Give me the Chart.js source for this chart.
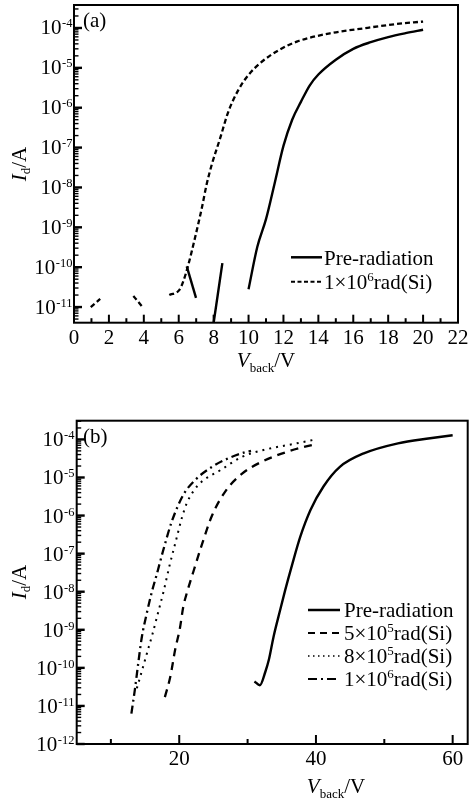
<!DOCTYPE html>
<html><head><meta charset="utf-8">
<script src="https://cdn.jsdelivr.net/npm/chart.js@4.4.0/dist/chart.umd.min.js"></script>
<style>
html,body{margin:0;padding:0;background:#fff;overflow:hidden;}
canvas{position:absolute;left:0;display:block;}
#cA{top:0;}
#cB{top:395px;}
</style></head><body>
<canvas id="cA" width="469" height="395" style="width:469px;height:395px"></canvas>
<canvas id="cB" width="469" height="404" style="width:469px;height:404px"></canvas>
<script>
const FONT = '"Liberation Serif","Times New Roman",serif';

// ---------- Panel (a) ----------
const aPreV = [6.46, 6.99, null, 7.98, 8.5, null, 10.0, 10.5, 11.0, 11.5, 12.0, 12.5, 13.0, 13.5, 14.0, 15.0, 16.0, 17.0, 18.0, 19.0, 20.0];
const aPreI = [1.05e-10, 1.7e-11, null, 3.5e-12, 1.26e-10, null, 2.8e-11, 3.2e-10, 1.6e-9, 1.3e-8, 1.1e-7, 5.0e-7, 1.4e-6, 3.6e-6, 6.8e-6, 1.6e-5, 3.0e-5, 4.4e-5, 5.9e-5, 7.4e-5, 9.0e-5];
const aRadV = [0.96, 1.5, null, 3.4, 3.97, null, 5.46, 6.04, 6.26, 6.55, 6.93, 7.32, 7.6, 7.89, 8.37, 8.84, 9.42, 9.99, 10.7, 11.8, 12.8, 14.7, 16.6, 18.5, 20.0];
const aRadI = [1.0e-11, 1.6e-11, null, 1.9e-11, 9.5e-12, null, 2.0e-11, 2.7e-11, 4.4e-11, 1.15e-10, 5.4e-10, 3.0e-9, 1.2e-8, 3.7e-8, 1.7e-7, 7.9e-7, 2.8e-6, 6.6e-6, 1.35e-5, 2.9e-5, 4.6e-5, 7.4e-5, 9.8e-5, 1.26e-4, 1.45e-4];
const aXLabels = [0, 2, 4, 6, 8, 10, 12, 14, 16, 18, 20, 22];
const aXMinor = [1, 3, 5, 7, 9, 11, 13, 15, 17, 19, 21];
const aYExp = [-11, -10, -9, -8, -7, -6, -5, -4];
const aLegend = ['Pre-radiation', '1×10⁶rad(Si)'];

// ---------- Panel (b) ----------
const bPreV = [31.0, 31.8, 32.6, 33.1, 33.8, 34.8, 35.5, 36.5, 37.7, 39.2, 41.1, 43.5, 47.0, 52.0, 56.7, 60.0];
const bPreI = [4.4e-11, 3.5e-11, 7.9e-11, 1.6e-10, 6.6e-10, 3.5e-9, 1.1e-8, 5.0e-8, 2.75e-7, 1.4e-6, 5.8e-6, 1.9e-5, 4.3e-5, 7.9e-5, 1.07e-4, 1.29e-4];
const b5V = [17.9, 18.7, 19.4, 20.1, 20.6, 21.1, 22.1, 23.3, 24.8, 26.7, 29.2, 32.1, 36.2, 40.0];
const b5I = [1.7e-11, 5.9e-11, 3.0e-10, 1.1e-9, 4.1e-9, 9.1e-9, 3.5e-8, 1.7e-7, 1.0e-6, 4.2e-6, 1.26e-5, 2.6e-5, 5.0e-5, 7.6e-5];
const b8V = [13.8, 14.5, 15.3, 16.1, 16.9, 17.7, 18.6, 19.6, 20.4, 21.1, 22.2, 23.3, 26.0, 29.2, 32.2, 37.2, 40.0];
const b8I = [2.9e-11, 7.9e-11, 2.5e-10, 7.9e-10, 2.8e-9, 1.0e-8, 5.0e-8, 2.5e-7, 8.9e-7, 2.1e-6, 4.7e-6, 7.8e-6, 1.55e-5, 3.5e-5, 5.2e-5, 7.9e-5, 1.0e-4];
const b10V = [13.0, 13.5, 14.0, 14.5, 15.25, 16.0, 16.7, 17.7, 18.9, 20.6, 22.3, 24.8, 27.2, 29.6, 30.5];
const b10I = [6.3e-12, 2.6e-11, 1.3e-10, 6.0e-10, 2.7e-9, 1.0e-8, 2.8e-8, 1.3e-7, 6.9e-7, 3.5e-6, 8.5e-6, 1.9e-5, 3.2e-5, 4.6e-5, 5.0e-5];
const bXLabels = [20, 40, 60];
const bXMinor = [10, 30, 50];
const bYExp = [-12, -11, -10, -9, -8, -7, -6, -5, -4];
const bLegend = ['Pre-radiation', '5×10⁵rad(Si)', '8×10⁵rad(Si)', '1×10⁶rad(Si)'];

function splitSegments(xs, ys) {
  const segs = []; let cur = [];
  xs.forEach((x, i) => {
    if (x === null || ys[i] === null) { if (cur.length) segs.push(cur); cur = []; }
    else cur.push({x: x, y: ys[i]});
  });
  if (cur.length) segs.push(cur);
  return segs;
}
function makeDatasets(series) {
  const ds = [];
  series.forEach(s => {
    splitSegments(s.x, s.y).forEach(seg => {
      ds.push({label: s.label, data: seg, borderColor: '#000', borderWidth: s.width,
        borderDash: s.dash, pointRadius: 0, fill: false, cubicInterpolationMode: 'monotone',
        borderCapStyle: 'butt', borderJoinStyle: 'round'});
    });
  });
  return ds;
}
function rich(ctx, parts, x, y, align) {
  let w = 0;
  parts.forEach(p => { ctx.font = (p.it ? 'italic ' : '') + p.s + 'px ' + FONT; p.w = ctx.measureText(p.t).width; w += p.w + (p.dx || 0); });
  let cx = align === 'right' ? x - w : (align === 'center' ? x - w / 2 : x);
  ctx.textAlign = 'left'; ctx.textBaseline = 'alphabetic';
  parts.forEach(p => { ctx.font = (p.it ? 'italic ' : '') + p.s + 'px ' + FONT; cx += (p.dx || 0); ctx.fillText(p.t, cx, y + (p.dy || 0)); cx += p.w; });
}
function labelParts(txt, size) {
  const supMap = {'⁰':'0','¹':'1','²':'2','³':'3','⁴':'4','⁵':'5','⁶':'6','⁷':'7','⁸':'8','⁹':'9'};
  const parts = []; let buf = '';
  for (const ch of txt) {
    if (supMap[ch]) { if (buf) parts.push({t: buf, s: size}); buf = ''; parts.push({t: supMap[ch], s: Math.round(size * 0.6), dy: -8}); }
    else buf += ch;
  }
  if (buf) parts.push({t: buf, s: size});
  return parts;
}

function panelPlugin(cfg) {
  return {
    id: 'panelDecor',
    afterDatasetsDraw(chart) {
      const ctx = chart.ctx, a = chart.chartArea, xs = chart.scales.x, ys = chart.scales.y;
      ctx.save();
      ctx.strokeStyle = '#000'; ctx.fillStyle = '#000';
      ctx.lineWidth = 2;
      ctx.strokeRect(a.left, a.top, a.right - a.left, a.bottom - a.top);
      const tick = (x1, y1, x2, y2, w) => { ctx.lineWidth = w; ctx.beginPath(); ctx.moveTo(x1, y1); ctx.lineTo(x2, y2); ctx.stroke(); };
      cfg.xLabels.forEach(v => { const x = xs.getPixelForValue(v); tick(x, a.bottom, x, a.bottom - cfg.xMajLen, 2); });
      cfg.xMinor.forEach(v => { const x = xs.getPixelForValue(v); tick(x, a.bottom, x, a.bottom - cfg.xMinLen, 2); });
      const lo = Math.floor(Math.log10(ys.min)), hi = Math.ceil(Math.log10(ys.max));
      for (let e = lo; e <= hi; e++) {
        for (let m = 1; m <= 9; m++) {
          const v = m * Math.pow(10, e);
          if (v < ys.min * 0.999 || v > ys.max) continue;
          const y = ys.getPixelForValue(v);
          if (m === 1) tick(a.left, y, a.left + 8, y, 2.4); else tick(a.left, y, a.left + 4.5, y, 1.4);
        }
      }
      ctx.font = '21px ' + FONT; ctx.textAlign = 'center'; ctx.textBaseline = 'alphabetic';
      cfg.xLabels.forEach(v => { ctx.fillText(String(v), xs.getPixelForValue(v), cfg.xLabelY); });
      cfg.yExp.forEach(e => {
        const y = ys.getPixelForValue(Math.pow(10, e));
        rich(ctx, [{t: '10', s: 21}, {t: String(e), s: 12.5, dy: -7, dx: 0.5}], cfg.yLabelRight, y + cfg.yBaseOff, 'right');
      });
      rich(ctx, [{t: 'V', s: 21, it: true}, {t: 'back', s: 13, dy: 5}, {t: '/V', s: 21}], cfg.xTitleX, cfg.xTitleY, 'center');
      ctx.save();
      ctx.translate(cfg.yTitleX, cfg.yTitleY); ctx.rotate(-Math.PI / 2);
      rich(ctx, [{t: 'I', s: 21, it: true}, {t: 'd', s: 13, dy: 4}, {t: '/A', s: 21}], 0, 0, 'center');
      ctx.restore();
      ctx.font = '21px ' + FONT; ctx.textAlign = 'left';
      ctx.fillText(cfg.panel, cfg.panelX, cfg.panelY);
      cfg.legend.forEach((lab, i) => {
        const st = cfg.legendStyles[i];
        const y = cfg.legRows[i];
        ctx.lineWidth = st.width; ctx.setLineDash(st.dash); ctx.lineCap = 'butt';
        ctx.beginPath(); ctx.moveTo(cfg.legX1, y); ctx.lineTo(cfg.legX2, y); ctx.stroke();
        ctx.setLineDash([]);
        rich(ctx, labelParts(lab, 21), cfg.legTextX, y + cfg.legTextOff, 'left');
      });
      ctx.restore();
    }
  };
}

const aSeries = [
  {label: aLegend[0], x: aPreV, y: aPreI, width: 2.4, dash: []},
  {label: aLegend[1], x: aRadV, y: aRadI, width: 2.3, dash: [5, 3]}
];
new Chart(document.getElementById('cA'), {
  type: 'line',
  data: {datasets: makeDatasets(aSeries)},
  options: {
    responsive: false, animation: false, devicePixelRatio: 1,
    layout: {padding: {left: 74, top: 5, right: 11, bottom: 72.3}},
    plugins: {legend: {display: false}, tooltip: {enabled: false}},
    scales: {
      x: {type: 'linear', min: 0, max: 22, display: false},
      y: {type: 'logarithmic', min: 4.05e-12, max: 3.77e-4, display: false}
    }
  },
  plugins: [panelPlugin({
    xLabels: aXLabels, xMinor: aXMinor, xMajLen: 8, xMinLen: 4.5, xLabelY: 343.5,
    yExp: aYExp, yLabelRight: 72.5, yBaseOff: 6.5,
    xTitleX: 266, xTitleY: 367, yTitleX: 26, yTitleY: 164,
    panel: '(a)', panelX: 83, panelY: 27,
    legend: aLegend, legendStyles: [{width: 2.5, dash: []}, {width: 2, dash: [4, 2.5]}],
    legRows: [257.3, 281.7], legX1: 291, legX2: 322, legTextX: 324, legTextOff: 7.5
  })]
});

const bSeries = [
  {label: bLegend[0], x: bPreV, y: bPreI, width: 2.4, dash: []},
  {label: bLegend[1], x: b5V, y: b5I, width: 2.3, dash: [8, 6]},
  {label: bLegend[2], x: b8V, y: b8I, width: 2, dash: [2, 5]},
  {label: bLegend[3], x: b10V, y: b10I, width: 2.3, dash: [8, 4, 2, 4]}
];
const OFF = 395;
new Chart(document.getElementById('cB'), {
  type: 'line',
  data: {datasets: makeDatasets(bSeries)},
  options: {
    responsive: false, animation: false, devicePixelRatio: 1,
    layout: {padding: {left: 76.7, top: 420.7 - OFF, right: 1.3, bottom: 404 - (744 - OFF)}},
    plugins: {legend: {display: false}, tooltip: {enabled: false}},
    scales: {
      x: {type: 'linear', min: 5, max: 62.2, display: false},
      y: {type: 'logarithmic', min: 1e-12, max: 3.1e-4, display: false}
    }
  },
  plugins: [panelPlugin({
    xLabels: bXLabels, xMinor: bXMinor, xMajLen: 9, xMinLen: 5, xLabelY: 765 - OFF,
    yExp: bYExp, yLabelRight: 74.5, yBaseOff: 7,
    xTitleX: 336, xTitleY: 793 - OFF, yTitleX: 26, yTitleY: 582 - OFF,
    panel: '(b)', panelX: 83, panelY: 443 - OFF,
    legend: bLegend,
    legendStyles: [{width: 2.5, dash: []}, {width: 2, dash: [7, 5]}, {width: 1.5, dash: [1.5, 3.5]}, {width: 2.2, dash: [9, 4, 2, 4]}],
    legRows: [610 - OFF, 633 - OFF, 656 - OFF, 679 - OFF], legX1: 308, legX2: 340, legTextX: 344, legTextOff: 7
  })]
});
</script>
</body></html>
